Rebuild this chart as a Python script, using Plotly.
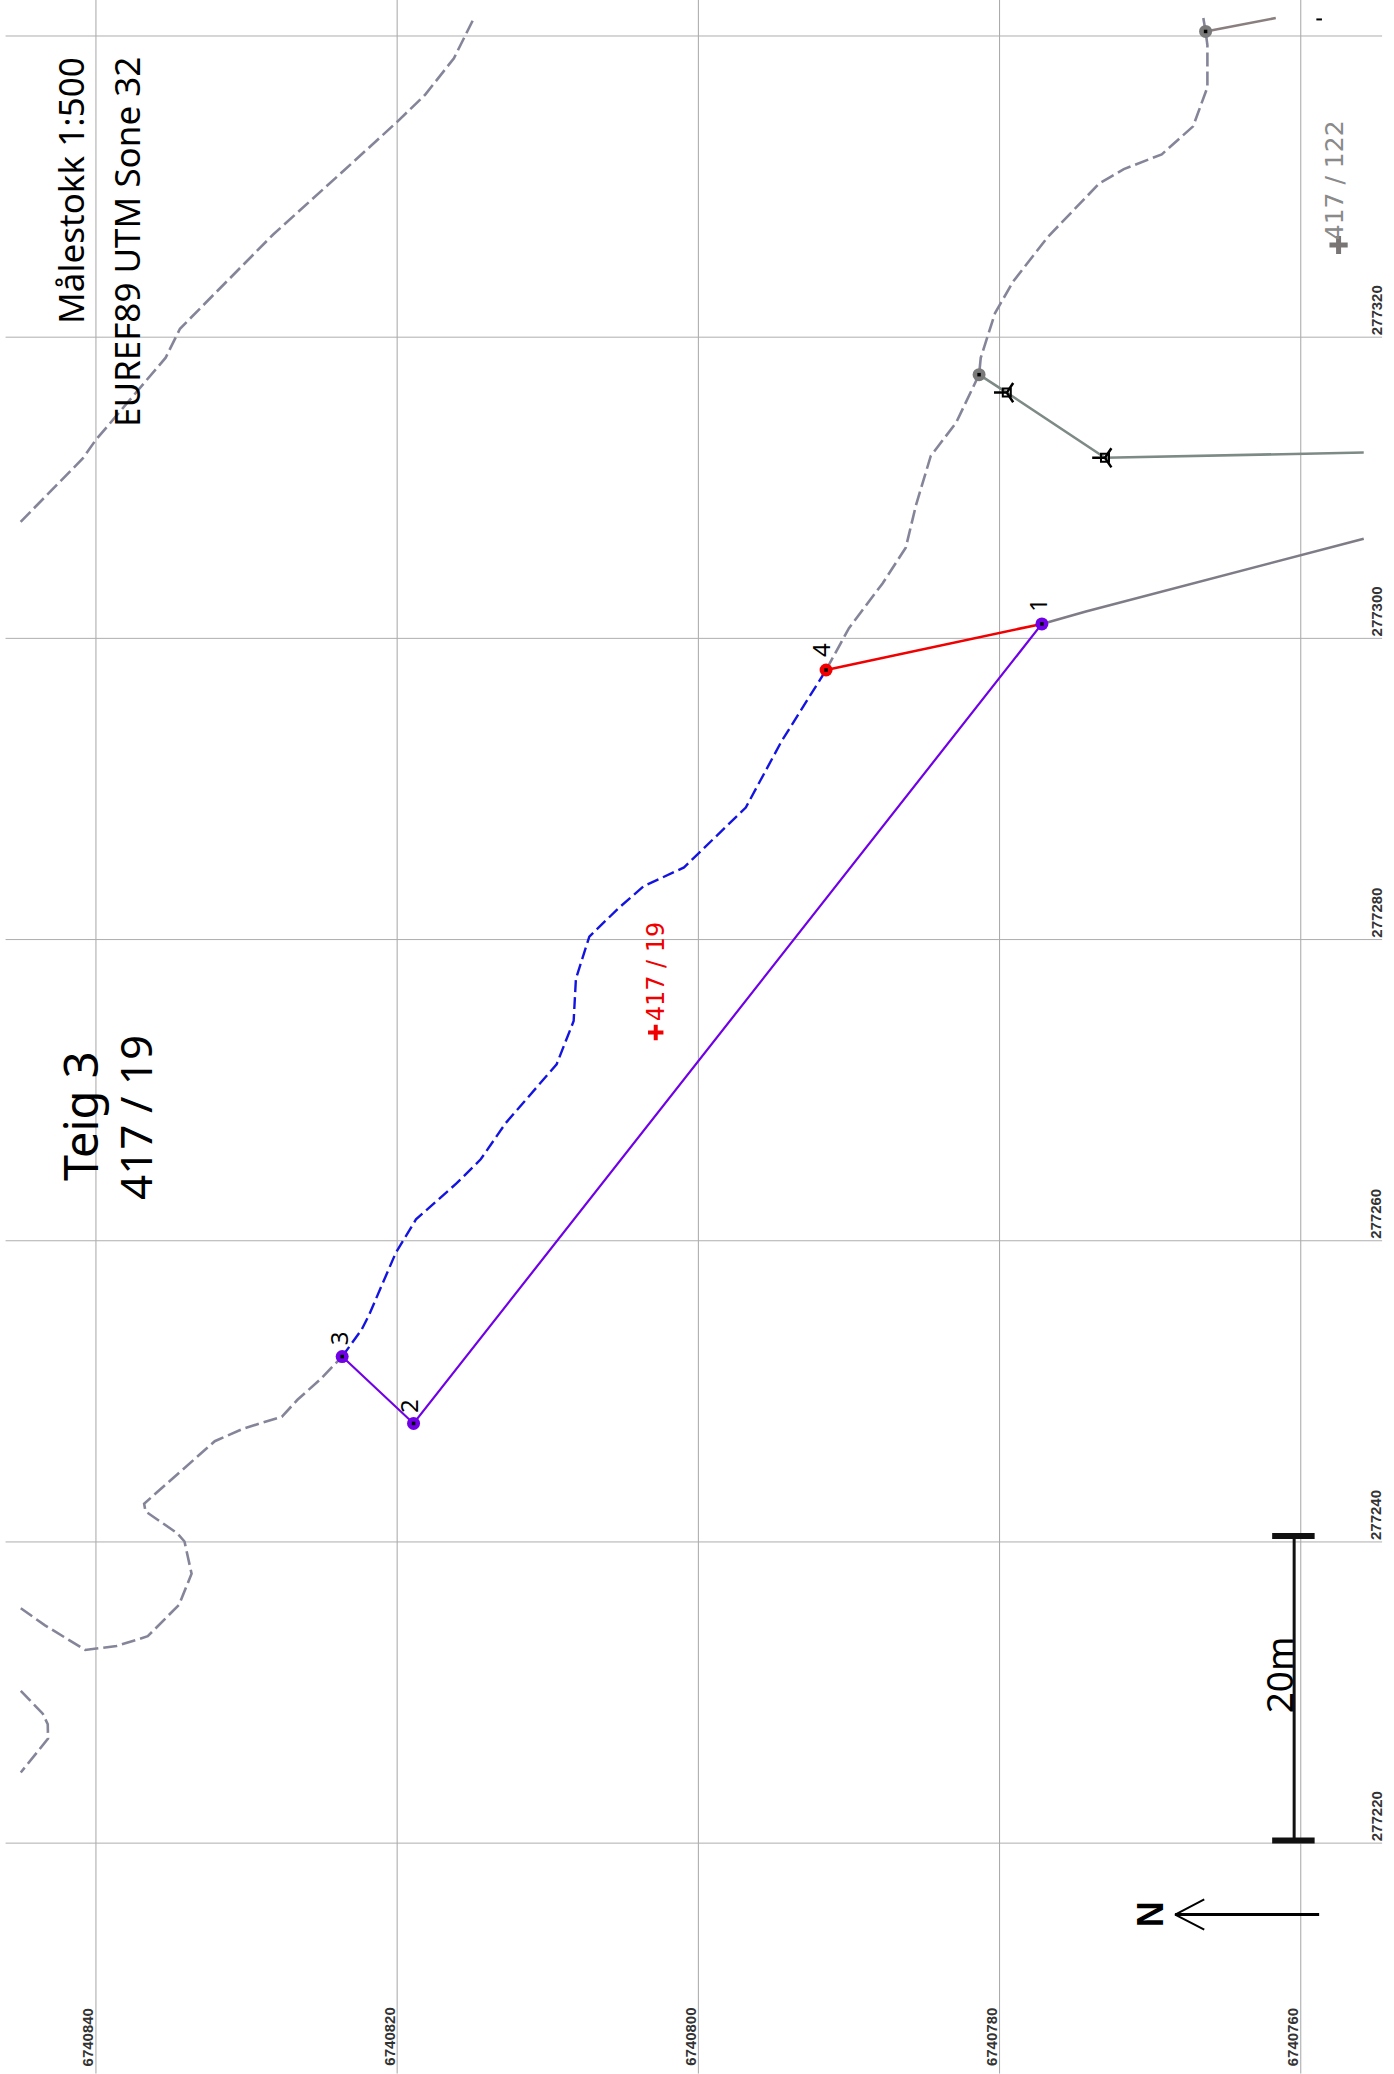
import plotly.graph_objects as go

N0 = 6740000
E0 = 277000

north_ticks = [840, 820, 800, 780, 760]
east_ticks = [340, 320, 300, 280, 260, 240, 220]
east_labels = ["", "277320", "277300", "277280", "277260", "277240", "277220"]

# boundary lines (north, east offsets in metres)
road_a_n = [845.0, 840.86, 840.03, 837.15, 835.37, 834.42, 828.25, 823.5, 820.0, 818.16, 816.23, 814.9]
road_a_e = [307.74, 311.96, 313.15, 316.5, 318.64, 320.56, 326.8, 331.1, 334.3, 336.08, 338.52, 341.19]

frag_n = [844.99, 843.53, 843.2, 843.18, 844.99]
frag_e = [230.11, 228.6, 227.89, 226.94, 224.69]

west_n = [844.99, 843.38, 840.71, 838.63, 836.56, 834.48, 833.65, 833.89, 834.12, 834.63, 836.71, 836.8,
          832.11, 830.18, 827.66, 826.62, 825.13, 823.65]
west_e = [235.6, 234.46, 232.83, 233.09, 233.74, 235.83, 237.89, 239.03, 240.03, 240.6, 242.03, 242.54,
          246.69, 247.54, 248.31, 249.44, 250.77, 252.31]

blue_n = [823.65, 822.37, 821.87, 820.09, 818.75, 816.08, 814.45, 812.82, 809.41, 808.28, 808.13, 807.24,
          805.25, 803.62, 800.95, 796.85, 794.48, 791.52]
blue_e = [252.31, 254.08, 255.06, 259.2, 261.42, 263.79, 265.41, 267.78, 271.72, 274.59, 277.4, 280.2,
          282.13, 283.55, 284.79, 288.77, 293.16, 297.9]

east_n = [791.52, 790.0, 787.77, 786.23, 785.55, 784.57, 782.88, 781.36, 781.25, 780.3, 779.11, 776.8,
          773.38, 771.75, 769.23, 767.15, 766.2, 766.2, 766.32, 766.47]
east_e = [297.9, 300.68, 303.65, 306.02, 308.84, 312.11, 314.33, 317.51, 318.63, 321.6, 323.68, 326.65,
          330.21, 331.16, 332.14, 334.0, 336.59, 339.4, 340.3, 341.19]

solid1_n = [781.36, 779.52, 773.0, 755.82]
solid1_e = [317.51, 316.32, 311.99, 312.34]
solid2_n = [766.32, 761.66]
solid2_e = [340.3, 341.19]
solid3_n = [777.19, 774.27, 755.82]
solid3_e = [300.96, 301.78, 306.62]

parcel_n = [777.19, 818.91, 823.65]
parcel_e = [300.96, 247.87, 252.31]
red_n = [791.52, 777.19]
red_e = [297.9, 300.96]

point_labels = ["1", "2", "3", "4"]
label_n = [777.52, 819.26, 823.92, 791.85]
label_e = [302.21, 249.05, 253.53, 299.23]

fig = go.Figure()


def line(n, e, color, width, dash="solid"):
    fig.add_trace(go.Scatter(x=[N0 + v for v in n], y=[E0 + v for v in e], mode="lines",
                             line=dict(color=color, width=width, dash=dash), hoverinfo="skip", showlegend=False))


def marks(n, e, symbol, size, color, lw=0, lc="black"):
    fig.add_trace(go.Scatter(x=[N0 + v for v in n], y=[E0 + v for v in e], mode="markers",
                             marker=dict(symbol=symbol, size=size, color=color, line=dict(width=lw, color=lc)),
                             hoverinfo="skip", showlegend=False))


def text(n, e, s, size, color="black", family="Noto Sans", bold=False):
    fig.add_annotation(x=N0 + n, y=E0 + e, text=f"<b>{s}</b>" if bold else s, textangle=-90, showarrow=False,
                       font=dict(size=size, color=color, family=family), xanchor="center", yanchor="middle")


# grid
for v in north_ticks:
    line([v, v], [342.4, 204.7], "#a6a6a6", 1)
for v in east_ticks:
    line([846.0, 754.6], [v, v], "#aeaeae", 1)

GRAY = "#85859a"
for n, e in [(road_a_n, road_a_e), (frag_n, frag_e), (west_n, west_e), (east_n, east_e)]:
    line(n, e, GRAY, 2.6, "14px,5px")
line(blue_n, blue_e, "#1414e0", 2.4, "12px,5px")
line(solid1_n, solid1_e, "#7d8a86", 2.6)
line(solid2_n, solid2_e, "#8a7f7f", 2.6)
line(solid3_n, solid3_e, "#7f7c87", 2.6)
line(parcel_n, parcel_e, "#7000e6", 2.2)
line(red_n, red_e, "#f00000", 2.6)

# corner markers
marks([781.36, 766.32], [317.51, 340.3], "circle", 13, "#7a7a7a")
marks(parcel_n, parcel_e, "circle", 13, "#7000e6")
marks(red_n[:1], red_e[:1], "circle", 13, "#f00000")
marks([781.36, 766.32, 777.19, 818.91, 823.65, 791.52], [317.51, 340.3, 300.96, 247.87, 252.31, 297.9],
      "square", 3.5, "black")

# antenna symbols
marks([779.52, 773.0], [316.32, 311.99], "square-open", 8, "black", 2)
marks([779.52, 773.0], [316.32, 311.99], "y-left-open", 16, "black", 2.5)
marks([758.78], [341.1], "line-ew-open", 4, "black", 2)

# parcel and neighbour labels
marks([802.83], [273.83], "cross-thin-open", 11, "#f00000", 4, "#f00000")
marks([757.49], [326.12], "cross-thin-open", 13, "#7a7575", 5, "#7a7575")
text(802.83, 277.87, "417 / 19", 24, "#f00000", "DejaVu Sans")
text(757.75, 330.4, "417 / 122", 25, "#8a8a8a", "DejaVu Sans")

for s, n, e in zip(point_labels, label_n, label_e):
    text(n, e, s, 24)

text(841.65, 329.72, "Målestokk 1:500", 35)
text(837.98, 326.34, "EUREF89 UTM Sone 32", 35)
text(841.05, 268.3, "Teig 3", 47)
text(837.36, 268.2, "417 / 19", 44)

# scale bar
line([760.44, 760.44], [240.4, 220.17], "#111111", 3)
line([761.9, 759.08], [240.4, 240.4], "#111111", 6)
line([761.9, 759.08], [220.17, 220.17], "#111111", 6)
text(761.42, 231.17, "20m", 37)

# north arrow
line([768.34, 758.78], [215.26, 215.26], "black", 3)
line([766.41, 768.34, 766.41], [216.26, 215.26, 214.26], "black", 2)
text(769.97, 215.26, "N", 36, "black", "Liberation Sans", True)

# tick labels
for v in north_ticks:
    fig.add_annotation(x=N0 + v, y=E0 + 204.67, text=f"<b>{N0 + v}</b>", textangle=-90, showarrow=False,
                       xanchor="right", yanchor="bottom", xshift=2, yshift=6,
                       font=dict(size=15, color="#333333", family="Liberation Sans"))
for v, s in zip(east_ticks, east_labels):
    if s:
        fig.add_annotation(x=N0 + 755.0, y=E0 + v, text=f"<b>{s}</b>", textangle=-90, showarrow=False,
                           xanchor="center", yanchor="bottom", xshift=0,
                           font=dict(size=15, color="#333333", family="Liberation Sans"))

fig.update_layout(
    width=1394, height=2074, margin=dict(l=0, r=0, t=0, b=0), paper_bgcolor="white", plot_bgcolor="white",
    showlegend=False,
    xaxis=dict(visible=False, range=[N0 + 846.37, N0 + 753.81]),
    yaxis=dict(visible=False, range=[E0 + 204.67, E0 + 342.39]),
)
fig.write_html("out.html", config={"displayModeBar": False}, post_script="document.body.style.margin='0';")
